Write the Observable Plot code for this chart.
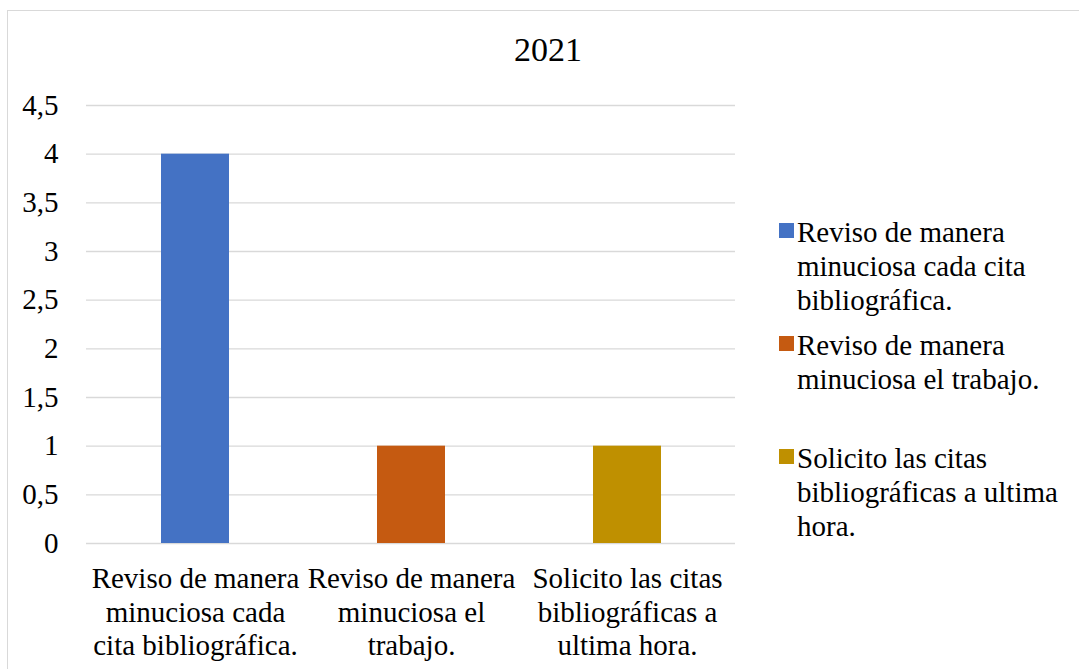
<!DOCTYPE html>
<html>
<head>
<meta charset="utf-8">
<script src="https://cdn.jsdelivr.net/npm/d3@7"></script>
<script src="https://cdn.jsdelivr.net/npm/@observablehq/plot@0.6"></script>
<style>
  html, body { margin: 0; padding: 0; background: #fff; overflow: hidden; }
  #wrap { position: relative; width: 1079px; height: 669px; font-family: "Liberation Serif", "Times New Roman", serif; color: #000; }
  #frame { position: absolute; left: 7px; top: 10px; width: 1100px; height: 700px; border: 1px solid #d9d9d9; box-sizing: border-box; }
  #title { position: absolute; left: 0; width: 1096px; top: 30px; text-align: center; font-size: 34px; line-height: 40px; }
  #chart { position: absolute; left: 0; top: 0; }
  #legend { position: absolute; left: 779px; top: 0; font-size: 29px; line-height: 34px; }
  .item { position: absolute; left: 0; width: 300px; }
  .sw { position: absolute; left: 0; width: 15px; height: 15px; }
  .lt { position: absolute; left: 18px; white-space: pre; }
</style>
</head>
<body>
<div id="wrap">
  <div id="frame"></div>
  <div id="chart"></div>
  <div id="title"></div>
  <div id="legend"></div>
</div>
<script>
const title = "2021";
const categories = [
  "Reviso de manera minuciosa cada cita bibliográfica.",
  "Reviso de manera minuciosa el trabajo.",
  "Solicito las citas bibliográficas a ultima hora."
];
const axisLabels = [
  "Reviso de manera\nminuciosa cada\ncita bibliográfica.",
  "Reviso de manera\nminuciosa el\ntrabajo.",
  "Solicito las citas\nbibliográficas a\nultima hora."
];
const legendLabels = [
  "Reviso de manera\nminuciosa cada cita\nbibliográfica.",
  "Reviso de manera\nminuciosa el trabajo.",
  "Solicito las citas\nbibliográficas a ultima\nhora."
];
const values = [4, 1, 1];
const colors = ["#4472C4", "#C55A11", "#BF9000"];
const yTicks = [0, 0.5, 1, 1.5, 2, 2.5, 3, 3.5, 4, 4.5];

const data = categories.map((c, i) => ({category: c, value: values[i]}));
const labelMap = new Map(categories.map((c, i) => [c, axisLabels[i]]));
const fmt = d => String(d).replace(".", ",");
const serif = '"Liberation Serif", "Times New Roman", serif';

const chart = Plot.plot({
  width: 1079,
  height: 669,
  marginLeft: 86,
  marginRight: 344,
  marginTop: 105,
  marginBottom: 126,
  style: {fontFamily: serif, fontSize: "29px", color: "#000", background: "transparent"},
  x: {domain: categories, paddingInner: 0.686, paddingOuter: 0.343, label: null},
  y: {domain: [0, 4.5], label: null},
  color: {domain: categories, range: colors},
  marks: [
    Plot.gridY(yTicks, {stroke: "#d9d9d9", strokeOpacity: 1, strokeWidth: 1.3}),
    Plot.barY(data, {x: "category", y: "value", fill: "category"}),
    Plot.axisY(yTicks, {tickSize: 0, tickPadding: 28, tickFormat: fmt, fontSize: 29, fontFamily: serif}),
    Plot.axisX({tickSize: 0, tickPadding: 20, tickFormat: d => labelMap.get(d), fontSize: 29, fontFamily: serif, lineHeight: 1.17, textOverflow: null, lineWidth: Infinity})
  ]
});
document.getElementById("chart").appendChild(chart);
document.getElementById("title").textContent = title;

const legendTops = [215, 328, 441];
const legend = d3.select("#legend");
categories.forEach((c, i) => {
  const it = legend.append("div").attr("class", "item").style("top", legendTops[i] + "px");
  it.append("div").attr("class", "sw").style("top", "8px").style("background", colors[i]);
  it.append("div").attr("class", "lt").text(legendLabels[i]);
});
</script>
</body>
</html>
